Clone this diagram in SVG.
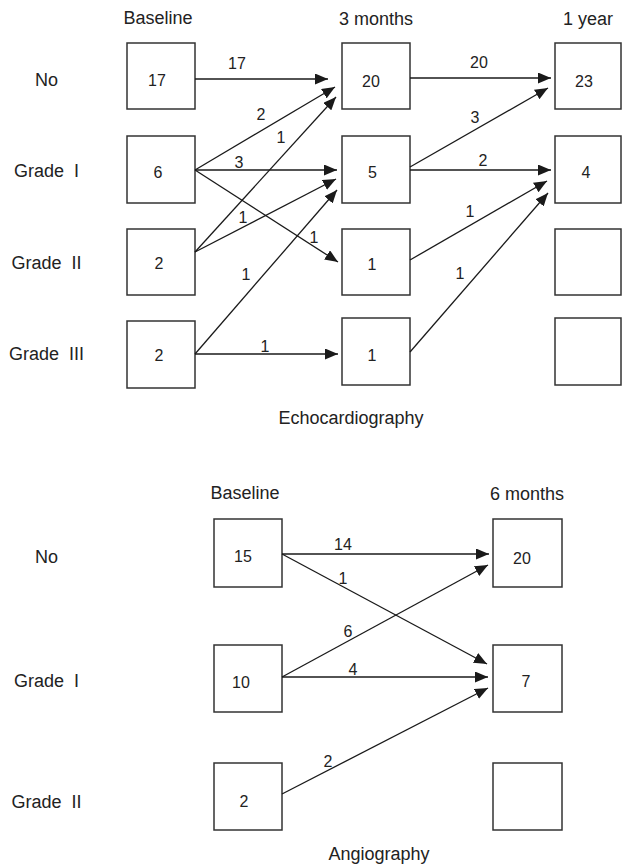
<svg xmlns="http://www.w3.org/2000/svg" width="622" height="866" viewBox="0 0 622 866">
<style>
.box{fill:#fff;stroke:#333;stroke-width:1.5}
.lbl{font-family:"Liberation Sans",Arial,sans-serif;font-size:18px;fill:#222;text-anchor:middle;white-space:pre}
.num{font-family:"Liberation Sans",Arial,sans-serif;font-size:16px;fill:#222;text-anchor:middle}
.edge{fill:none;stroke:#1a1a1a;stroke-width:1.3;marker-end:url(#ah)}
</style>
<defs>
<marker id="ah" markerUnits="userSpaceOnUse" viewBox="0 0 13 11" refX="13" refY="5.5" markerWidth="13" markerHeight="11" orient="auto">
<path d="M0,0 L13,5.5 L0,11 z" fill="#1a1a1a"/>
</marker>
</defs>
<rect width="622" height="866" fill="#fff"/>
<g id="headers">
<text class="lbl" x="158" y="24">Baseline</text>
<text class="lbl" x="376" y="25">3 months</text>
<text class="lbl" x="588" y="25">1 year</text>
<text class="lbl" x="46.5" y="86">No</text>
<text class="lbl" x="46.5" y="177" xml:space="preserve">Grade  I</text>
<text class="lbl" x="46.5" y="269" xml:space="preserve">Grade  II</text>
<text class="lbl" x="46.5" y="360" xml:space="preserve">Grade  III</text>
<text class="lbl" x="351" y="424">Echocardiography</text>
<text class="lbl" x="245" y="499">Baseline</text>
<text class="lbl" x="527" y="500">6 months</text>
<text class="lbl" x="46.5" y="563">No</text>
<text class="lbl" x="46.5" y="687" xml:space="preserve">Grade  I</text>
<text class="lbl" x="46.5" y="808" xml:space="preserve">Grade  II</text>
<text class="lbl" x="379" y="860">Angiography</text>
</g>
<g id="echo-baseline-no"><rect class="box" x="127" y="43" width="68" height="66"/><text class="num" x="157" y="86">17</text></g>
<g id="echo-baseline-g1"><rect class="box" x="127" y="136" width="68" height="67"/><text class="num" x="158" y="178">6</text></g>
<g id="echo-baseline-g2"><rect class="box" x="127" y="229" width="68" height="66"/><text class="num" x="159" y="269">2</text></g>
<g id="echo-baseline-g3"><rect class="box" x="127" y="321" width="68" height="67"/><text class="num" x="159" y="361">2</text></g>
<g id="echo-3m-no"><rect class="box" x="342" y="43" width="68" height="66"/><text class="num" x="371" y="87">20</text></g>
<g id="echo-3m-g1"><rect class="box" x="342" y="136" width="68" height="67"/><text class="num" x="372.5" y="178">5</text></g>
<g id="echo-3m-g2"><rect class="box" x="342" y="229" width="68" height="66"/><text class="num" x="372" y="270">1</text></g>
<g id="echo-3m-g3"><rect class="box" x="342" y="318" width="68" height="67"/><text class="num" x="372" y="361">1</text></g>
<g id="echo-1y-no"><rect class="box" x="555" y="43" width="66" height="66"/><text class="num" x="584" y="87">23</text></g>
<g id="echo-1y-g1"><rect class="box" x="555" y="136" width="66" height="67"/><text class="num" x="586" y="178">4</text></g>
<g id="echo-1y-g2"><rect class="box" x="555" y="229" width="66" height="66"/></g>
<g id="echo-1y-g3"><rect class="box" x="555" y="318" width="66" height="67"/></g>
<g id="angio-baseline-no"><rect class="box" x="214" y="519" width="68" height="68"/><text class="num" x="243" y="562">15</text></g>
<g id="angio-baseline-g1"><rect class="box" x="214" y="645" width="68" height="67"/><text class="num" x="241" y="688">10</text></g>
<g id="angio-baseline-g2"><rect class="box" x="214" y="763" width="68" height="67"/><text class="num" x="244" y="807">2</text></g>
<g id="angio-6m-no"><rect class="box" x="493" y="519" width="69" height="68"/><text class="num" x="522" y="564">20</text></g>
<g id="angio-6m-g1"><rect class="box" x="493" y="645" width="69" height="67"/><text class="num" x="526" y="687">7</text></g>
<g id="angio-6m-g2"><rect class="box" x="493" y="763" width="69" height="67"/></g>
<g id="connectors">
<line class="edge" x1="195" y1="79" x2="328" y2="79"/>
<line class="edge" x1="195" y1="170" x2="335" y2="87"/>
<line class="edge" x1="195" y1="252" x2="336" y2="97"/>
<line class="edge" x1="195" y1="170" x2="337" y2="170"/>
<line class="edge" x1="195" y1="252" x2="336" y2="179"/>
<line class="edge" x1="195" y1="354" x2="337" y2="190"/>
<line class="edge" x1="195" y1="170" x2="338" y2="262"/>
<line class="edge" x1="195" y1="354" x2="338" y2="354"/>
<line class="edge" x1="410" y1="78" x2="551" y2="78"/>
<line class="edge" x1="410" y1="167" x2="548" y2="88"/>
<line class="edge" x1="410" y1="170" x2="551" y2="170"/>
<line class="edge" x1="410" y1="260" x2="547" y2="181"/>
<line class="edge" x1="410" y1="352" x2="548" y2="193"/>
<line class="edge" x1="282" y1="554" x2="489" y2="554"/>
<line class="edge" x1="282" y1="554" x2="487" y2="664"/>
<line class="edge" x1="282" y1="677" x2="488" y2="565"/>
<line class="edge" x1="282" y1="677" x2="488" y2="677"/>
<line class="edge" x1="282" y1="794" x2="488" y2="688"/>
<text class="num" x="237" y="69">17</text>
<text class="num" x="261" y="120">2</text>
<text class="num" x="281" y="143">1</text>
<text class="num" x="239" y="168">3</text>
<text class="num" x="243" y="223">1</text>
<text class="num" x="314" y="243">1</text>
<text class="num" x="246" y="280">1</text>
<text class="num" x="265" y="352">1</text>
<text class="num" x="479" y="68">20</text>
<text class="num" x="475" y="123">3</text>
<text class="num" x="483" y="166">2</text>
<text class="num" x="470" y="217">1</text>
<text class="num" x="460" y="279">1</text>
<text class="num" x="343" y="550">14</text>
<text class="num" x="343" y="584">1</text>
<text class="num" x="348" y="637">6</text>
<text class="num" x="353" y="675">4</text>
<text class="num" x="328" y="767">2</text>
</g>
</svg>
